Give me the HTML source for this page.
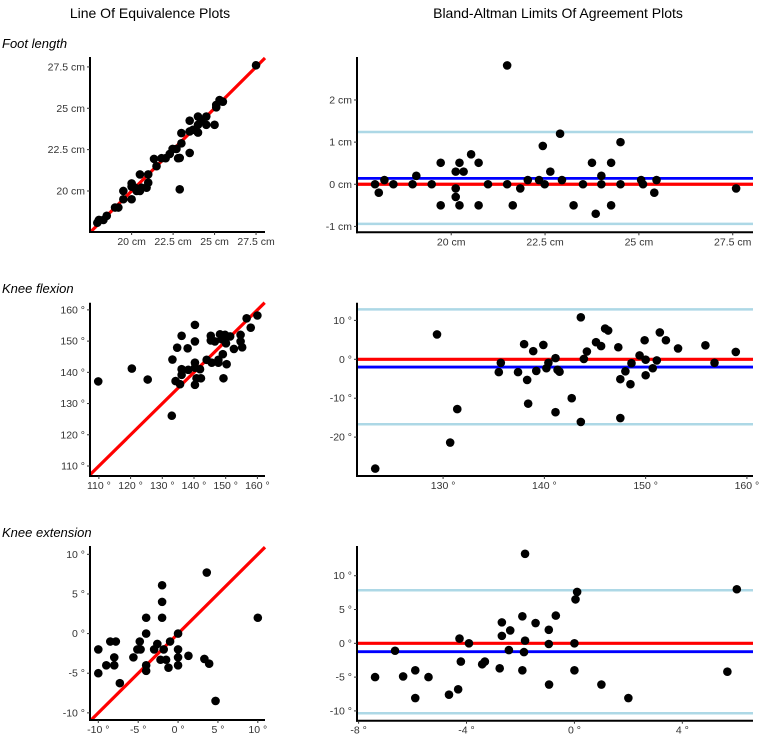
<!DOCTYPE html>
<html><head><meta charset="utf-8"><style>
html,body{margin:0;padding:0;background:#fff;}
svg{display:block;font-family:"Liberation Sans",sans-serif;}
</style></head><body>
<svg id="chart" width="760" height="737" viewBox="0 0 760 737" xmlns="http://www.w3.org/2000/svg">
<text x="150" y="18" font-size="14" text-anchor="middle" fill="#000">Line Of Equivalence Plots</text>
<text x="558" y="18" font-size="14" text-anchor="middle" fill="#000">Bland-Altman Limits Of Agreement Plots</text>
<text x="2" y="48" font-size="13" font-style="italic" fill="#000">Foot length</text>
<text x="2" y="293" font-size="13" font-style="italic" fill="#000">Knee flexion</text>
<text x="2" y="537" font-size="13" font-style="italic" fill="#000">Knee extension</text>
</svg>
<script>
// ---- Foot length LOE ----
const footLoeX = [17.93,18.03,18.3,18.5,19.0,19.2,19.5,19.5,20.0,20.0,20.0,20.2,20.3,20.5,20.5,20.6,20.9,21.0,21.0,21.5,21.35,21.8,22.05,22.3,22.47,22.7,22.8,22.9,23.0,22.9,23.0,23.5,23.5,23.5,23.7,24.0,24.0,24.0,24.2,24.5,24.5,25.0,25.1,25.1,25.3,25.5,27.5];
const footLoeY = [18.08,18.25,18.25,18.5,19.0,19.0,20.0,19.5,19.5,20.46,20.26,20.2,20.0,20.0,21.0,20.2,20.2,20.5,21.0,21.5,21.94,21.98,21.98,22.24,22.54,22.54,21.98,22.0,22.88,20.1,23.5,23.6,22.3,24.25,23.7,24.0,23.53,24.5,24.25,24.5,24.0,24.0,25.06,25.2,25.5,25.4,27.6];
const footTicks = [20,22.5,25,27.5];
const footTickLabels = ["20 cm","22.5 cm","25 cm","27.5 cm"];
// ---- Foot length BA ----
const footBaX = [17.97,18.07,18.22,18.46,18.97,19.07,19.48,19.72,19.72,20.12,20.12,20.12,20.22,20.22,20.33,20.53,20.73,20.73,20.98,21.49,21.49,21.64,21.84,22.04,22.34,22.44,22.49,22.64,22.9,22.95,23.26,23.51,23.75,23.85,24.0,24.0,24.26,24.26,24.51,24.51,25.06,25.11,25.41,25.47,27.59];
const footBaY = [0,-0.2,0.1,0,0,0.2,0,0.51,-0.5,0.3,-0.1,-0.3,0.51,-0.5,0.3,0.71,0.51,-0.5,0,2.82,0,-0.5,-0.1,0.1,0.1,0.91,0,0.3,1.2,0.1,-0.5,0,0.51,-0.7,0.2,0,0.51,-0.5,1.0,0,0.1,0,-0.2,0.1,-0.1];
const footBaYTicks = [-1,0,1,2];
const footBaYLabels = ["-1 cm","0 cm","1 cm","2 cm"];
const footBaBias = 0.14, footBaLoA = [1.24,-0.94];
// ---- Knee flexion LOE ----
const flexLoeX = [109.8,120.4,125.4,133.2,133.0,134.2,134.7,135.6,136.1,136.1,136.1,138.0,138.2,140.3,140.3,140.3,140.3,140.3,140.8,141.9,142.2,144.0,145.3,145.3,145.6,146.6,147.7,147.7,148.2,148.7,149.1,149.3,149.8,150.1,150.3,150.5,151.4,152.6,154.7,154.7,155.2,156.6,157.9,160.0];
const flexLoeY = [137.1,141.2,137.7,144.1,126.1,137.2,147.9,136.2,151.7,141.0,139.2,147.7,140.8,149.9,155.2,143.1,141.5,136.0,138.1,141.0,138.1,144.0,151.7,150.2,143.1,149.9,144.0,143.1,152.2,150.6,145.8,138.1,152.0,149.3,142.6,151.5,151.5,147.5,152.0,149.9,148.0,157.3,154.3,158.2];
const flexTicks = [110,120,130,140,150,160];
const flexTickLabels = ["110 °","120 °","130 °","140 °","150 °","160 °"];
// ---- Knee flexion BA ----
const flexBaX = [123.3,129.4,130.7,131.4,135.5,135.7,137.4,138.0,138.3,138.4,138.9,139.2,139.9,140.2,140.4,141.1,141.1,141.3,141.5,142.7,143.6,143.6,143.9,144.2,145.1,145.6,146.0,146.3,147.3,147.5,147.5,148.0,148.5,148.6,149.4,149.9,150.0,150.0,150.7,151.1,151.4,152.0,153.2,155.9,156.8,158.9];
const flexBaY = [-28.1,6.4,-21.4,-12.8,-3.3,-0.9,-3.3,3.9,-5.3,-11.4,2.1,-3.0,3.7,-2.3,-0.9,0.3,-13.6,-2.7,-3.2,-10.0,10.8,-16.1,0.1,2.0,4.4,3.4,7.9,7.4,3.1,-5.1,-15.1,-3.1,-6.4,-1.0,1.0,4.9,-0.1,-4.1,-2.3,-0.3,6.9,4.9,2.8,3.6,-0.9,1.9];
const flexBaXTicks = [130,140,150,160];
const flexBaXLabels = ["130 °","140 °","150 °","160 °"];
const flexBaYTicks = [-20,-10,0,10];
const flexBaYLabels = ["-20 °","-10 °","0 °","10 °"];
const flexBaBias = -2.0, flexBaLoA = [12.85,-16.7];
// ---- Knee extension LOE ----
const extLoeX = [-10.0,-10.0,-9.0,-8.5,-8.0,-8.0,-7.8,-7.3,-5.6,-5.1,-4.8,-4.7,-4.0,-4.0,-4.0,-4.0,-3.0,-2.6,-2.2,-2.0,-2.0,-2.0,-1.8,-1.5,-1.2,-1.0,0.0,0.0,0.0,0.0,1.3,3.3,3.6,3.9,4.7,10.0];
const extLoeY = [-2.0,-5.0,-4.0,-1.0,-3.0,-4.0,-1.0,-6.25,-3.0,-2.0,-1.0,-2.0,2.0,0.0,-4.0,-4.7,-2.0,-1.3,-3.3,6.1,4.0,2.0,-2.0,-3.3,-4.3,-1.0,0.0,-2.0,-3.0,-4.0,-2.8,-3.2,7.7,-3.8,-8.5,2.0];
const extTicks = [-10,-5,0,5,10];
const extTickLabels = ["-10 °","-5 °","0 °","5 °","10 °"];
// ---- Knee extension BA ----
const extBaX = [-7.39,-6.65,-6.35,-5.9,-5.9,-5.41,-4.65,-4.31,-4.26,-4.21,-3.91,-3.42,-3.32,-2.77,-2.69,-2.69,-2.43,-2.38,-1.93,-1.93,-1.87,-1.83,-1.83,-1.44,-0.95,-0.95,-0.94,-0.69,0.0,0.0,0.04,0.1,1.0,2.0,5.67,6.02];
const extBaY = [-5.0,-1.1,-4.9,-4.0,-8.1,-5.0,-7.6,-6.8,0.7,-2.7,0,-3.1,-2.7,-3.7,3.1,1.1,-1.0,1.9,4.0,-4.0,-1.3,13.25,0.4,3.0,2.0,-0.1,-6.1,4.1,0,-4.0,6.5,7.6,-6.1,-8.1,-4.2,8.0];
const extBaXTicks = [-8,-4,0,4];
const extBaXLabels = ["-8 °","-4 °","0 °","4 °"];
const extBaYTicks = [-10,-5,0,5,10];
const extBaYLabels = ["-10 °","-5 °","0 °","5 °","10 °"];
const extBaBias = -1.24, extBaLoA = [7.85,-10.35];

const NS = "http://www.w3.org/2000/svg";
const svg = document.getElementById('chart');
function mk(tag, attrs, parent){
  const e = document.createElementNS(NS, tag);
  for (const k in attrs) e.setAttribute(k, attrs[k]);
  (parent||svg).appendChild(e);
  return e;
}
function panel(cfg){
  const g = mk('g', {});
  
  
  const sx = v => cfg.l + (v - cfg.xmin) / (cfg.xmax - cfg.xmin) * (cfg.r - cfg.l);
  const sy = v => cfg.b - (v - cfg.ymin) / (cfg.ymax - cfg.ymin) * (cfg.b - cfg.t);
  // reference lines
  if (cfg.diag) {
    const lo = Math.max(cfg.xmin, cfg.ymin), hi = Math.min(cfg.xmax, cfg.ymax);
    const ln = mk('line', {x1:sx(lo), y1:sy(lo), x2:sx(hi), y2:sy(hi), stroke:'#ff0000', 'stroke-width':3.2}, g);
    
    
  }
  if (cfg.loa) {
    cfg.loa.forEach(v => {
      const ln = mk('line', {x1:cfg.l, y1:sy(v), x2:cfg.r, y2:sy(v), stroke:'#add8e6', 'stroke-width':2.5}, g);
      
      
    });
    const z = mk('line', {x1:cfg.l, y1:sy(0), x2:cfg.r, y2:sy(0), stroke:'#ff0000', 'stroke-width':3.2}, g);
    
    
    const bl = mk('line', {x1:cfg.l, y1:sy(cfg.bias), x2:cfg.r, y2:sy(cfg.bias), stroke:'#0000ff', 'stroke-width':2.8}, g);
    
    
  }
  // axes
  const ya = mk('line', {x1:cfg.l, y1:cfg.t, x2:cfg.l, y2:cfg.b+1, stroke:'#000', 'stroke-width':2}, g);
  
  
  const xa = mk('line', {x1:cfg.l-1, y1:cfg.b, x2:cfg.r, y2:cfg.b, stroke:'#000', 'stroke-width':2}, g);
  
  
  cfg.xt.forEach((v,i) => {
    const x = sx(v);
    mk('line', {x1:x, y1:cfg.b, x2:x, y2:cfg.b+3, stroke:'#333', 'stroke-width':1}, g);
    const t = mk('text', {x:x, y:cfg.b+13, 'font-size':10.5, 'text-anchor':'middle', fill:'#333'}, g);
    t.textContent = cfg.xl[i];
    
    
  });
  cfg.yt.forEach((v,i) => {
    const y = sy(v);
    mk('line', {x1:cfg.l-3, y1:y, x2:cfg.l, y2:y, stroke:'#333', 'stroke-width':1}, g);
    const t = mk('text', {x:cfg.l-5, y:y+3.5, 'font-size':10.5, 'text-anchor':'end', fill:'#333'}, g);
    t.textContent = cfg.yl[i];
    
    
  });
  cfg.xs.forEach((v,i) => {
    const c = mk('circle', {cx:sx(v), cy:sy(cfg.ys[i]), r:4.3, fill:'#000'}, g);
    
    
  });
}
panel({name:'foot-length-loe-plot', l:90, r:265, t:57, b:232, xmin:17.49, xmax:28.04, ymin:17.52, ymax:28.1,
  xs:footLoeX, ys:footLoeY, xt:footTicks, xl:footTickLabels, yt:footTicks, yl:footTickLabels, diag:true});
panel({name:'foot-length-ba-plot', l:357, r:753, t:57, b:232.3, xmin:17.49, xmax:28.04, ymin:-1.14, ymax:3.02,
  xs:footBaX, ys:footBaY, xt:footTicks, xl:footTickLabels, yt:footBaYTicks, yl:footBaYLabels, loa:footBaLoA, bias:footBaBias});
panel({name:'knee-flexion-loe-plot', l:90, r:265, t:302.7, b:476, xmin:107.2, xmax:162.4, ymin:106.8, ymax:162.3,
  xs:flexLoeX, ys:flexLoeY, xt:flexTicks, xl:flexTickLabels, yt:flexTicks, yl:flexTickLabels, diag:true});
panel({name:'knee-flexion-ba-plot', l:357, r:753, t:302.7, b:476, xmin:121.5, xmax:160.6, ymin:-30.0, ymax:14.55,
  xs:flexBaX, ys:flexBaY, xt:flexBaXTicks, xl:flexBaXLabels, yt:flexBaYTicks, yl:flexBaYLabels, loa:flexBaLoA, bias:flexBaBias});
panel({name:'knee-extension-loe-plot', l:90, r:265, t:546, b:720, xmin:-11.04, xmax:10.9, ymin:-10.9, ymax:11.05,
  xs:extLoeX, ys:extLoeY, xt:extTicks, xl:extTickLabels, yt:extTicks, yl:extTickLabels, diag:true});
panel({name:'knee-extension-ba-plot', l:357, r:753, t:546, b:720.7, xmin:-8.06, xmax:6.62, ymin:-11.45, ymax:14.4,
  xs:extBaX, ys:extBaY, xt:extBaXTicks, xl:extBaXLabels, yt:extBaYTicks, yl:extBaYLabels, loa:extBaLoA, bias:extBaBias});
</script>
</body></html>
